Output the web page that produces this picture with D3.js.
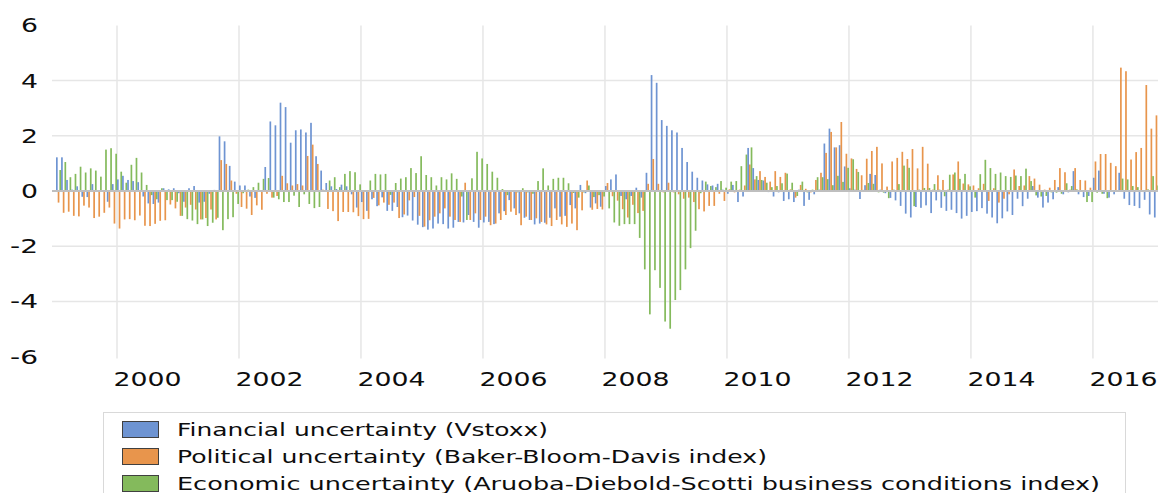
<!DOCTYPE html>
<html lang='en'>
<head>
    <meta charset='UTF-8'>
    <title>Uncertainty indicators</title>
    <style>
        body { margin: 0; background: #fff; }
        text { font-family: 'DejaVu Sans', Verdana, sans-serif; fill: #0d0d0d; }
    </style>
</head>
<body>
<div id="chart-area"></div>
</body>
<script src='https://d3js.org/d3.v7.min.js'></script>
<script>

    // monthly values, Jan 1999 .. Jan 2017
    const financial = [
        1.22, 1.22, 0.40, 0.05, 0.17, -0.21, -0.22, 0.25, -0.03, 0.02, -0.39, 0.25,
        0.42, 0.55, 0.40, 0.36, 0.32, -0.20, -0.45, -0.47, -0.42, 0.10, 0.06, 0.10,
        -0.08, -0.39, 0.10, 0.18, -0.42, -0.39, -0.10, 0.04, 1.98, 1.80, 0.91, 0.34,
        0.20, 0.20, -0.20, -0.25, 0.02, 0.87, 2.52, 2.38, 3.20, 3.04, 1.75, 2.20,
        2.23, 2.12, 2.47, 1.26, 0.74, 0.29, 0.17, 0.07, 0.23, 0.17, -0.12, -0.60,
        -0.40, -0.72, -0.30, -0.55, -0.23, -0.72, -0.72, -0.58, -0.95, -0.89, -1.07, -1.22,
        -1.31, -1.40, -1.36, -1.18, -1.20, -1.36, -1.33, -1.12, -1.14, -0.87, -1.12, -1.33,
        -1.14, -1.12, -1.20, -0.81, -0.73, -0.33, -0.63, -0.81, -0.97, -1.05, -1.21, -1.18,
        -1.15, -0.97, -0.63, -0.93, -0.90, -0.51, -0.63, 0.22, -0.08, -0.60, -0.45, -0.57,
        0.18, 0.42, 0.60, -0.18, -0.30, -0.18, 0.12, -0.24, 0.66, 4.20, 3.92, 2.57,
        2.36, 2.20, 2.12, 1.56, 1.05, 0.70, 0.48, 0.38, 0.24, 0.20, 0.26, 0.05,
        -0.10, 0.22, -0.40, -0.20, 1.56, 0.83, 0.40, 0.38, -0.04, -0.20, -0.05, -0.36,
        -0.30, -0.40, 0.05, -0.54, -0.32, -0.12, 0.05, 1.72, 2.26, 1.58, 1.66, 0.89,
        0.10, 0.05, -0.29, 0.21, 0.62, 0.58, 0.05, -0.08, -0.25, -0.34, -0.54, -0.82,
        -0.96, -0.58, -0.61, -0.52, -0.80, -0.34, -0.61, -0.72, -0.68, -0.80, -1.00, -0.90,
        -0.76, -0.73, -0.62, -0.82, -0.96, -1.17, -0.99, -0.74, -0.87, -0.28, -0.55, -0.28,
        0.18, -0.24, -0.60, -0.42, -0.30, 0.14, -0.12, -0.05, 0.72, -0.12, -0.22, -0.18,
        0.48, 0.74, -0.10, -0.24, -0.12, 0.66, -0.28, -0.51, -0.54, -0.62, -0.32, -0.85, -0.96
    ];

    const political = [
        -0.42, -0.79, -0.75, -0.90, -0.92, -0.53, -0.60, -0.98, -0.93, -0.79, -0.60, -1.18,
        -1.36, -1.03, -1.02, -1.06, -0.89, -1.26, -1.27, -1.19, -1.08, -1.06, -0.49, -0.63,
        -0.90, -0.60, -0.50, -0.67, -1.03, -0.98, -0.67, -1.03, 1.12, 0.98, 0.38, -0.10,
        -0.58, -0.64, -0.87, -0.52, -0.68, -0.10, -0.24, -0.18, 0.55, 0.28, 0.20, 0.25,
        0.20, 1.27, 1.68, 0.98, 0.05, -0.65, -0.73, -1.09, -0.76, -0.76, -0.77, -0.91,
        -1.02, -1.01, -0.25, -0.52, -0.42, -0.50, -0.42, -0.98, -0.85, -0.34, -0.22, -0.90,
        -1.29, -1.06, -0.93, -0.81, -0.63, -0.93, -1.05, -1.12, 0.30, -1.05, -0.81, -1.05,
        -0.93, -1.24, -1.18, -1.05, -0.87, -0.75, -0.87, -1.24, -0.93, -1.05, -0.99, -1.12,
        -1.21, -1.27, -1.05, -1.21, -1.30, -1.18, -1.42, -0.70, 0.38, -0.68, -0.65, -0.67,
        0.29, -0.19, -0.35, -0.66, -0.96, -0.50, -0.80, -0.72, 0.26, 1.16, 0.26, -0.05,
        0.30, -0.05, -0.12, -0.28, -0.24, -0.40, -0.66, -0.74, -0.54, -0.54, -0.10, -0.36,
        0.06, -0.05, 0.05, 0.20, 0.96, 0.42, 0.72, 0.51, 0.34, 0.72, 0.51, 0.66,
        0.06, -0.24, 0.22, 0.08, -0.05, 0.40, 0.66, 1.38, 2.14, 1.58, 2.50, 1.35,
        1.18, 0.80, 0.57, 1.17, 1.45, 1.60, 1.00, 0.16, 1.07, 1.20, 1.42, 1.16,
        1.52, 0.82, 1.60, 0.99, 0.05, 0.57, 0.40, 0.05, 0.60, 1.07, 0.27, 0.24,
        0.20, 0.10, 0.26, -0.36, 0.10, -0.42, -0.28, -0.12, 0.78, 0.18, 0.20, 0.54,
        0.45, 0.23, 0.05, 0.12, 0.40, 0.83, 0.68, 0.05, 0.83, 0.40, 0.38, 0.12,
        1.07, 1.34, 1.34, 1.02, 0.90, 4.47, 4.34, 1.14, 1.41, 1.56, 3.84, 2.26, 2.74
    ];

    const economic = [
        0.76, 1.05, 0.50, 0.62, 0.88, 0.67, 0.82, 0.74, 0.52, 1.50, 1.55, 1.35,
        0.70, 0.30, 0.95, 1.20, 0.67, 0.22, -0.15, -0.30, 0.10, -0.33, -0.33, -0.39,
        -0.90, -1.02, -1.07, -1.20, -1.03, -1.27, -1.15, -0.97, -1.42, -1.02, -0.95, -0.47,
        -0.08, 0.05, 0.14, 0.30, 0.44, 0.47, -0.24, -0.30, -0.40, -0.40, -0.17, -0.58,
        -0.12, -0.47, -0.62, -0.58, 0.03, 0.38, 0.50, 0.14, 0.62, 0.72, 0.68, 0.24,
        0.03, 0.38, 0.62, 0.60, 0.62, -0.14, 0.29, 0.45, 0.50, 0.83, 0.65, 1.26,
        0.58, 0.50, 0.20, 0.50, 0.42, 0.64, 0.44, -0.20, -1.05, 0.46, 1.42, 1.18,
        0.98, 0.70, 0.48, 0.07, -0.15, 0.03, -0.05, 0.10, -0.05, -0.10, 0.36, 0.82,
        0.20, 0.44, 0.48, 0.48, 0.28, -0.07, -0.24, -0.05, 0.20, -0.22, -0.15, -0.20,
        -0.63, -1.14, -1.26, -1.20, -1.20, -1.20, -1.70, -2.84, -4.47, -2.87, -3.51, -4.73,
        -4.99, -3.95, -3.59, -2.84, -2.07, -1.44, -0.08, 0.34, 0.18, 0.14, 0.36, 0.12,
        0.34, 0.36, 0.90, 1.32, 1.58, 0.54, 0.40, 0.30, 0.14, 0.18, 0.28, 0.63,
        0.30, -0.18, 0.34, -0.05, 0.05, 0.50, 0.50, 0.43, 0.21, 0.55, 0.33, 0.84,
        1.15, 0.69, 0.04, 0.29, 0.26, -0.05, -0.06, -0.26, 0.05, 0.25, 0.92, 0.84,
        -0.55, 0.05, 0.11, 0.11, 0.25, 0.05, -0.19, 0.59, 0.67, 0.44, 0.62, 0.17,
        -0.24, 0.61, 1.13, 0.83, 0.62, 0.67, 0.54, 0.51, 0.56, 0.54, 0.81, 0.36,
        -0.16, -0.20, -0.18, -0.05, -0.06, -0.10, 0.28, 0.18, 0.06, 0.03, -0.40, -0.40,
        -0.06, -0.10, -0.26, 0.03, 0.03, 0.45, 0.42, 0.18, 0.14, 0.03, 0.06, 0.54, 0.20
    ];

    const seriesNames = [
        'Financial uncertainty (Vstoxx)',
        'Political uncertainty (Baker-Bloom-Davis index)',
        'Economic uncertainty (Aruoba-Diebold-Scotti business conditions index)'
    ];
    const seriesKeys = ['fin', 'pol', 'eco'];
    const colors = ['#6e94d2', '#e8954c', '#84ba5c'];

    const yearLabels = ['2000', '2002', '2004', '2006', '2008', '2010', '2012', '2014', '2016'];
    const yTicks = [6, 4, 2, 0, -2, -4, -6];
    const gridValues = [4, 2, -2, -4];

    const width = 1158;
    const height = 493;
    const plot = {left: 56, top: 25.4, bottom: 356.6};
    const monthW = 5.083;

    const months = d3.timeMonth.range(new Date(1999, 0, 1), new Date(2017, 1, 1));
    const rows = months.map((d, i) => ({date: d, fin: financial[i], pol: political[i], eco: economic[i]}));

    const svg = d3.select('#chart-area').append('svg')
        .attr('width', width)
        .attr('height', height);

    const x0 = d3.scaleBand()
        .domain(d3.range(months.length))
        .range([plot.left, plot.left + monthW * months.length])
        .padding(0);

    const x1 = d3.scaleBand()
        .domain(seriesKeys)
        .range([0, x0.bandwidth()])
        .padding(0);

    const yScale = d3.scaleLinear().domain([-6, 6]).range([plot.bottom, plot.top]);

    const monthIndex = (year, m) => (year - 1999) * 12 + m;

    // horizontal gridlines
    svg.append('g')
        .selectAll('line')
        .data(gridValues)
        .enter().append('line')
        .attr('x1', 52)
        .attr('x2', width)
        .attr('y1', d => yScale(d))
        .attr('y2', d => yScale(d))
        .attr('stroke', '#e6e6e6')
        .attr('stroke-width', 1.5);

    // vertical gridlines every two years
    svg.append('g')
        .selectAll('line')
        .data(yearLabels)
        .enter().append('line')
        .attr('x1', d => x0(monthIndex(+d, 0)))
        .attr('x2', d => x0(monthIndex(+d, 0)))
        .attr('y1', plot.top)
        .attr('y2', plot.bottom + 2)
        .attr('stroke', '#e6e6e6')
        .attr('stroke-width', 1.5);

    // bars
    const groups = svg.append('g')
        .selectAll('g')
        .data(rows)
        .enter().append('g')
        .attr('transform', (d, i) => `translate(${x0(i)},0)`);

    groups.selectAll('rect')
        .data(d => seriesKeys.map((k, j) => ({key: k, value: d[k], color: colors[j]})))
        .enter().append('rect')
        .attr('x', d => x1(d.key))
        .attr('width', x1.bandwidth())
        .attr('y', d => yScale(Math.max(0, d.value)))
        .attr('height', d => Math.abs(yScale(d.value) - yScale(0)))
        .attr('fill', d => d.color);

    // zero line
    svg.append('line')
        .attr('x1', 52)
        .attr('x2', width)
        .attr('y1', yScale(0))
        .attr('y2', yScale(0))
        .attr('stroke', '#bfbfbf')
        .attr('stroke-width', 2);

    // y labels (stretched like the original)
    svg.append('g')
        .selectAll('text')
        .data(yTicks)
        .enter().append('text')
        .attr('x', 38)
        .attr('y', d => yScale(d) + 7)
        .attr('text-anchor', 'end')
        .attr('font-size', 19)
        .attr('textLength', d => d < 0 ? 28 : 17)
        .attr('lengthAdjust', 'spacingAndGlyphs')
        .text(d => d);

    // year labels, centred in the year
    svg.append('g')
        .selectAll('text')
        .data(yearLabels)
        .enter().append('text')
        .attr('x', d => x0(monthIndex(+d, 6)) - 34)
        .attr('y', 386)
        .attr('font-size', 19)
        .attr('textLength', 68)
        .attr('lengthAdjust', 'spacingAndGlyphs')
        .text(d => d);

    // legend
    const legend = svg.append('g');
    legend.append('rect')
        .attr('x', 103.5)
        .attr('y', 412.5)
        .attr('width', 1022)
        .attr('height', 100)
        .attr('fill', 'none')
        .attr('stroke', '#d9d9d9');

    const legendWidths = [371, 590, 923];
    const item = legend.selectAll('g.item')
        .data(seriesNames)
        .enter().append('g')
        .attr('class', 'item')
        .attr('transform', (d, i) => `translate(0, ${421 + i * 27})`);

    item.append('rect')
        .attr('x', 122.5)
        .attr('y', 0.5)
        .attr('width', 36)
        .attr('height', 16)
        .attr('fill', (d, i) => colors[i])
        .attr('stroke', '#404040')
        .attr('stroke-width', 1);

    item.append('text')
        .attr('x', 177)
        .attr('y', 15)
        .attr('font-size', 17)
        .attr('textLength', (d, i) => legendWidths[i])
        .attr('lengthAdjust', 'spacingAndGlyphs')
        .text(d => d);

</script>
</html>
